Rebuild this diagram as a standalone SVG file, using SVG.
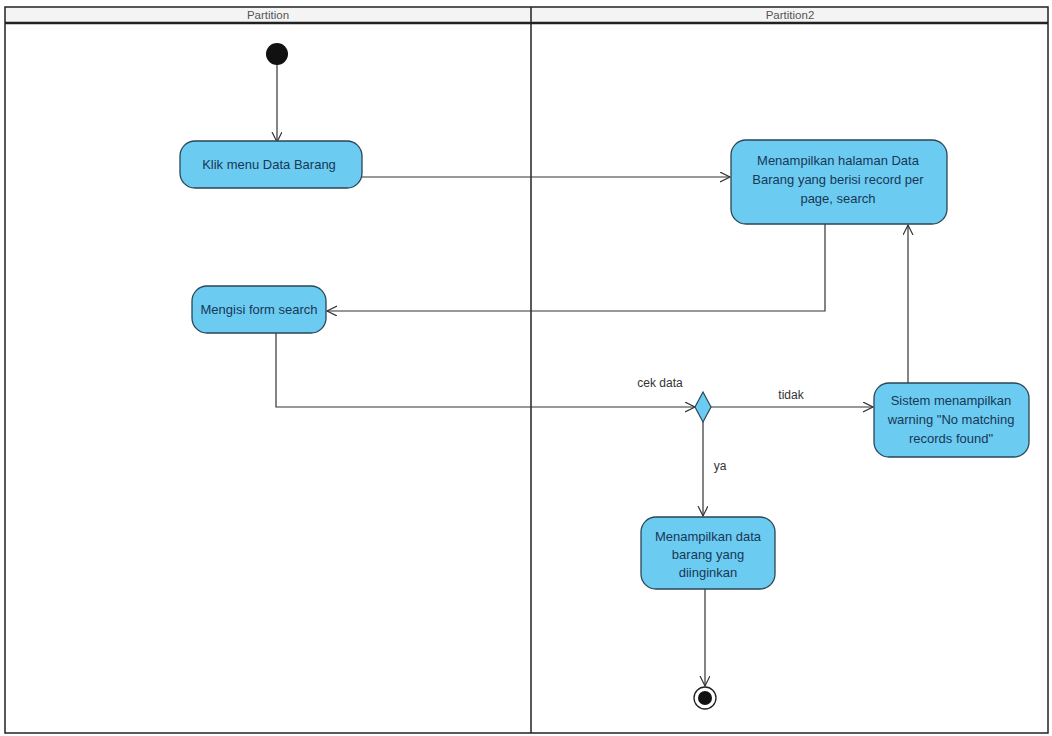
<svg xmlns="http://www.w3.org/2000/svg" width="1052" height="736" viewBox="0 0 1052 736">
<defs>
<style>
.frame{fill:none;stroke:#222;stroke-width:1.5}
.act{fill:#6ccbf1;stroke:#2a4656;stroke-width:1.3}
.t{font-family:"Liberation Sans",Arial,sans-serif;font-size:13px;fill:#183856;text-anchor:middle}
.h{font-family:"Liberation Sans",Arial,sans-serif;font-size:11.5px;fill:#555;text-anchor:middle}
.lbl{font-family:"Liberation Sans",Arial,sans-serif;font-size:12px;fill:#333;text-anchor:middle}
.edge{fill:none;stroke:#333;stroke-width:1.2}
</style>
<marker id="arr" markerWidth="12" markerHeight="12" refX="10" refY="5" orient="auto" markerUnits="userSpaceOnUse">
<path d="M0,0 L10,5 L0,10" fill="none" stroke="#333" stroke-width="1.2"/>
</marker>
</defs>
<rect width="1052" height="736" fill="#ffffff"/>
<g id="partitions">
<rect x="5" y="7" width="1043" height="16" fill="#f4f4f4"/>
<rect x="5" y="7" width="1043" height="726" class="frame"/>
<line x1="5" y1="23" x2="1048" y2="23" stroke="#222" stroke-width="2.5"/>
<line x1="531" y1="7" x2="531" y2="733" stroke="#222" stroke-width="1.5"/>
<text class="h" x="268" y="19">Partition</text>
<text class="h" x="790" y="19">Partition2</text>
</g>
<g id="connectors">
<line class="edge" x1="277" y1="64" x2="277" y2="142" marker-end="url(#arr)"/>
<line class="edge" x1="362" y1="177" x2="730" y2="177" marker-end="url(#arr)"/>
<polyline class="edge" points="825,224 825,311 327,311" marker-end="url(#arr)"/>
<polyline class="edge" points="276,333 276,407 695,407" marker-end="url(#arr)"/>
<line class="edge" x1="711" y1="407" x2="873" y2="407" marker-end="url(#arr)"/>
<line class="edge" x1="908" y1="383" x2="908" y2="225" marker-end="url(#arr)"/>
<line class="edge" x1="703" y1="422" x2="703" y2="516" marker-end="url(#arr)"/>
<line class="edge" x1="705" y1="589" x2="705" y2="686" marker-end="url(#arr)"/>
<text class="lbl" x="660" y="387">cek data</text>
<text class="lbl" x="791" y="399">tidak</text>
<text class="lbl" x="720" y="470">ya</text>
</g>
<g id="initial">
<circle cx="277" cy="54" r="11" fill="#111"/>
</g>
<g id="klik">
<rect class="act" x="180" y="141" width="182" height="47" rx="15"/>
<text class="t" x="269" y="169">Klik menu Data Barang</text>
</g>
<g id="halaman">
<rect class="act" x="731" y="140" width="216" height="84" rx="15"/>
<text class="t" x="838" y="165">Menampilkan halaman Data</text>
<text class="t" x="838" y="184">Barang yang berisi record per</text>
<text class="t" x="838" y="203">page, search</text>
</g>
<g id="mengisi">
<rect class="act" x="192" y="286" width="134" height="47" rx="15"/>
<text class="t" x="259" y="314">Mengisi form search</text>
</g>
<g id="decision">
<polygon points="703,392 711,407 703,422 695,407" fill="#6ccbf1" stroke="#2a4656" stroke-width="1.2"/>
</g>
<g id="sistem">
<rect class="act" x="874" y="383" width="155" height="74" rx="15"/>
<text class="t" x="951" y="405">Sistem menampilkan</text>
<text class="t" x="951" y="424">warning "No matching</text>
<text class="t" x="951" y="443">records found"</text>
</g>
<g id="menampilkan-data">
<rect class="act" x="641" y="517" width="134" height="72" rx="15"/>
<text class="t" x="708" y="541">Menampilkan data</text>
<text class="t" x="708" y="559">barang yang</text>
<text class="t" x="708" y="577">diinginkan</text>
</g>
<g id="final">
<circle cx="705" cy="698" r="11" fill="#fff" stroke="#222" stroke-width="1.3"/>
<circle cx="705" cy="698" r="7" fill="#111"/>
</g>
</svg>
